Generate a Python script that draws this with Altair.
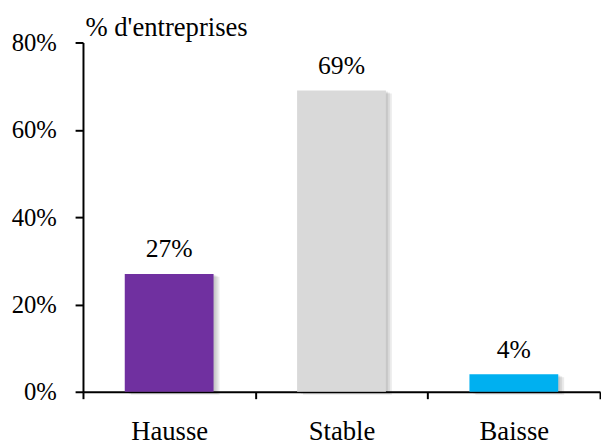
import altair as alt
import pandas as pd

categories = ["Hausse", "Stable", "Baisse"]
values = [27, 69, 4]
labels = ["27%", "69%", "4%"]
colors = ["#7030A0", "#D9D9D9", "#00B0F0"]

df = pd.DataFrame({"cat": categories, "val": values, "label": labels, "color": colors})

FONT = "'Times New Roman', 'Liberation Serif', serif"

x = alt.X("cat:N", sort=categories, title=None,
          scale=alt.Scale(paddingInner=0, paddingOuter=0),
          axis=alt.Axis(labelAngle=0, labelFontSize=27, labelFont=FONT, labelColor="black",
                        labelPadding=20, tickBand="extent", tickSize=7, tickWidth=2,
                        tickColor="black", domainColor="black", domainWidth=2))
y = alt.Y("val:Q", scale=alt.Scale(domain=[0, 80]),
          axis=alt.Axis(values=[0, 20, 40, 60, 80], format=".0f", labelExpr="datum.value + '%'",
                        labelFontSize=25, labelFont=FONT, labelColor="black", labelPadding=19,
                        tickSize=8, tickWidth=2, tickColor="black", domainColor="black",
                        domainWidth=2, grid=False,
                        title="% d'entreprises", titleAngle=0, titleAlign="left",
                        titleBaseline="alphabetic", titleX=2, titleY=-7, titleFont=FONT,
                        titleFontSize=27, titleFontWeight="normal", titleColor="black"))

base = alt.Chart(df)

shadows = [
    base.mark_bar(size=90, color="#000000", opacity=0.08, xOffset=o, yOffset=o * 0.5)
    .encode(x=x, y=y)
    for o in (2, 4, 6)
]

bars = base.mark_bar(size=90).encode(
    x=x, y=y, color=alt.Color("color:N", scale=None)
)

text = base.mark_text(font=FONT, fontSize=26, baseline="alphabetic", dy=-17, color="black").encode(
    x=x, y=y, text="label:N"
)

chart = alt.layer(*shadows, bars, text).properties(
    width=524, height=354,
    autosize=alt.AutoSizeParams(type="none"),
    padding={"left": 76, "top": 32, "right": 1, "bottom": 51},
).configure_view(stroke=None).configure_axis(zindex=1)

chart.save("out.html", embed_options={"renderer": "svg", "actions": False})
